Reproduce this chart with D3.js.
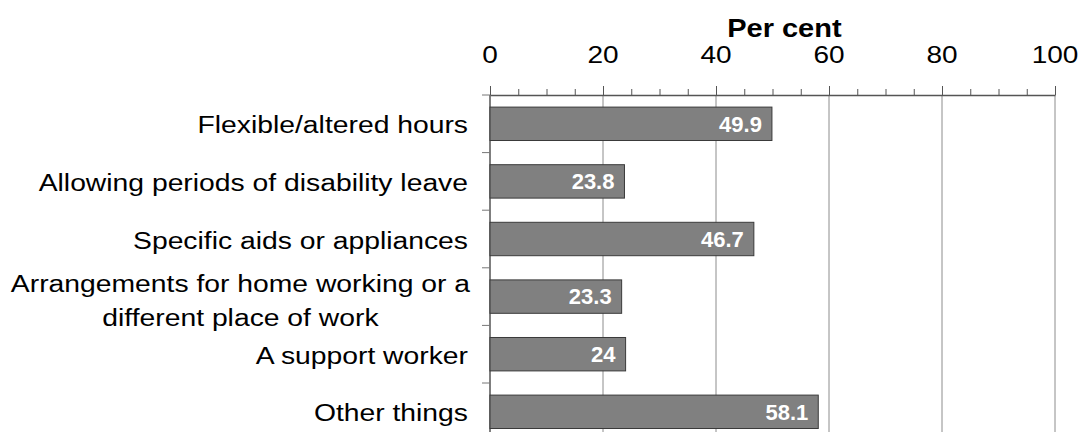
<!DOCTYPE html>
<html>
<head>
<meta charset="utf-8">
<script src="https://cdn.jsdelivr.net/npm/d3@7"></script>
<style>
  body { margin: 0; background: #fff; }
  text { font-family: "Liberation Sans", Arial, sans-serif; }
</style>
</head>
<body>
<div id="chart"></div>
<script>
// カテゴリと値
var categories = [
  ["Flexible/altered hours"],
  ["Allowing periods of disability leave"],
  ["Specific aids or appliances"],
  ["Arrangements for home working or a", "different place of work"],
  ["A support worker"],
  ["Other things"]
];
var values = [49.9, 23.8, 46.7, 23.3, 24, 58.1];
var valueLabels = ["49.9", "23.8", "46.7", "23.3", "24", "58.1"];
var xTicks = [0, 20, 40, 60, 80, 100];
var minorTicks = d3.range(0, 101, 5);
var axisTitle = "Per cent";

var width = 1081, height = 432;
var plotLeft = 490, plotRight = 1055, plotTop = 95, step = 57.6;
var squash = 0.87; // 元画像の文字は縦に少しつぶれている

var svg = d3.select("#chart").append("svg")
    .attr("width", width)
    .attr("height", height);

var xScale = d3.scaleLinear()
    .domain([0, 100])
    .range([plotLeft, plotRight]);

var yScale = d3.scaleBand()
    .domain(d3.range(categories.length))
    .range([plotTop, plotTop + step * categories.length])
    .paddingInner(0.42)
    .paddingOuter(0.21);

var plotBottom = plotTop + step * categories.length;

// 縦につぶしたテキストを置く
function squashedText(parent, x, y, s, size, anchor, weight) {
    return parent.append("g")
        .attr("transform", "translate(" + x + "," + y + ") scale(1," + squash + ")")
        .append("text")
        .attr("text-anchor", anchor)
        .style("font-size", size + "px")
        .style("font-weight", weight || "normal")
        .attr("fill", "#000")
        .text(s);
}

// グリッド線
svg.append("g")
    .selectAll("line")
    .data(xTicks.slice(1))
    .enter()
    .append("line")
    .attr("x1", function(d){ return xScale(d); })
    .attr("x2", function(d){ return xScale(d); })
    .attr("y1", plotTop)
    .attr("y2", plotBottom)
    .attr("stroke", "#8c8c8c")
    .attr("stroke-width", 1);

// 上側の軸
var xAxis = svg.append("g")
    .attr("transform", "translate(0," + plotTop + ")")
    .call(d3.axisTop(xScale)
        .tickValues(minorTicks)
        .tickSize(6)
        .tickSizeOuter(0)
        .tickFormat(""));
xAxis.select(".domain").attr("stroke", "#555").attr("stroke-width", 1.5);
xAxis.selectAll(".tick line")
    .attr("stroke", "#555")
    .attr("y2", function(d){ return d % 20 === 0 ? -9 : -6; });

var tickLabels = svg.append("g");
xTicks.forEach(function(d) {
    squashedText(tickLabels, xScale(d), 62.5, d, 28, "middle");
});

squashedText(svg, xScale(52.1), 37, axisTitle, 29, "middle", "bold");

// 左側の軸
var yAxisG = svg.append("g");
yAxisG.append("line")
    .attr("x1", plotLeft).attr("x2", plotLeft)
    .attr("y1", plotTop).attr("y2", plotBottom)
    .attr("stroke", "#555").attr("stroke-width", 1.5);
yAxisG.selectAll(".ytick")
    .data(d3.range(categories.length + 1))
    .enter()
    .append("line")
    .attr("class", "ytick")
    .attr("x1", plotLeft - 8).attr("x2", plotLeft)
    .attr("y1", function(d){ return plotTop + d * step; })
    .attr("y2", function(d){ return plotTop + d * step; })
    .attr("stroke", "#777");

// 棒
svg.append("g")
    .selectAll("rect")
    .data(values)
    .enter()
    .append("rect")
    .attr("x", xScale(0))
    .attr("y", function(d, i){ return yScale(i); })
    .attr("width", function(d){ return xScale(d) - xScale(0); })
    .attr("height", yScale.bandwidth())
    .attr("fill", "#808080")
    .attr("stroke", "#3a3a3a")
    .attr("stroke-width", 1);

// 値ラベル
svg.append("g")
    .selectAll("text")
    .data(values)
    .enter()
    .append("text")
    .attr("x", function(d){ return xScale(d) - 10; })
    .attr("y", function(d, i){ return yScale(i) + yScale.bandwidth() / 2 + 7.8; })
    .attr("text-anchor", "end")
    .style("font-size", "22px")
    .style("font-weight", "bold")
    .attr("fill", "#fff")
    .text(function(d, i){ return valueLabels[i]; });

// カテゴリラベル（複数行は中央揃えのブロックとして右寄せ）
var catG = svg.append("g");
categories.forEach(function(lines, i) {
    var cy = plotTop + step * i + step / 2;
    var labelRight = 468;
    if (lines.length === 1) {
        squashedText(catG, labelRight, cy + 9.5, lines[0], 28.3, "end");
    } else {
        var lh = 34;
        var nodes = lines.map(function(s, k) {
            return squashedText(catG, 0, cy - 5 + k * lh, s, 28.3, "middle");
        });
        var maxW = d3.max(nodes, function(n){ return n.node().getComputedTextLength(); });
        var blockCenter = labelRight + 2 - maxW / 2;
        nodes.forEach(function(n, k) {
            d3.select(n.node().parentNode)
                .attr("transform", "translate(" + blockCenter + "," + (cy - 5 + k * lh) + ") scale(1," + squash + ")");
        });
    }
});
</script>
</body>
</html>
